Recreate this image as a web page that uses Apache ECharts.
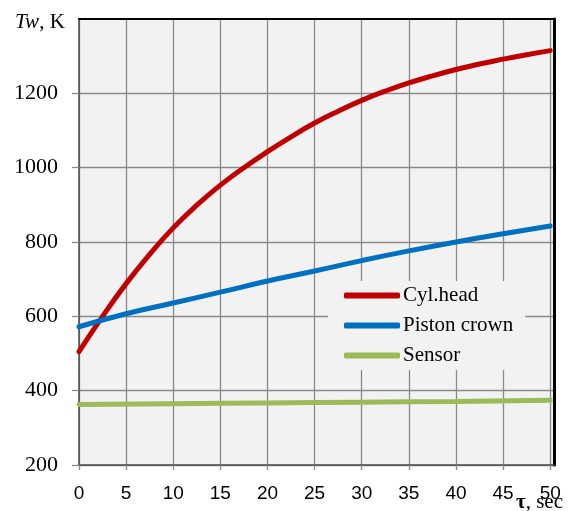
<!DOCTYPE html>
<html>
<head>
<meta charset="utf-8">
<script src="https://cdn.jsdelivr.net/npm/echarts@6/dist/echarts.min.js"></script>
<style>
html,body{margin:0;padding:0;background:#fff;}
#c{width:579px;height:511px;}
</style>
</head>
<body>
<div id="c"></div>
<script>
// ---- data ----
const xTicks = [0, 5, 10, 15, 20, 25, 30, 35, 40, 45, 50];
const yTicks = [200, 400, 600, 800, 1000, 1200];

const tauCyl = [0, 2.5, 5, 7.5, 10, 12.5, 15, 17.5, 20, 22.5, 25, 27.5, 30, 32.5, 35, 37.5, 40, 42.5, 45, 47.5, 50];
const cylHead = [505, 600, 688, 767, 838, 899, 953, 1000, 1043, 1083, 1120, 1152, 1181, 1206, 1228, 1247, 1264, 1279, 1292, 1304, 1315];

const tauPiston = [0, 5, 10, 15, 20, 25, 30, 35, 40, 45, 50];
const pistonCrown = [572, 607, 636, 665, 695, 722, 750, 776, 800, 822, 843];

const tauSensor = [0, 10, 20, 30, 40, 50];
const sensor = [363, 365, 367, 369, 371, 374];

const seriesNames = ['Cyl.head', 'Piston crown', 'Sensor'];
const seriesColors = ['#C00000', '#0070C0', '#9BBB59'];

function pairs(xs, ys) { return xs.map((x, i) => [x, ys[i]]); }

const chart = echarts.init(document.getElementById('c'), null, {renderer: 'canvas'});

const serif = 'Liberation Serif';
const sans = 'Liberation Sans';

const option = {
  backgroundColor: '#ffffff',
  animation: false,
  grid: {
    left: 79, right: 25, top: 19, bottom: 46,
    show: true, backgroundColor: '#F2F2F2', borderWidth: 0
  },
  xAxis: [{
    type: 'value', min: 0, max: 50.4, interval: 5,
    axisLine: {show: true, lineStyle: {color: '#4d4d4d', width: 1.5}},
    axisTick: {show: true, length: 5, inside: false, customValues: xTicks, lineStyle: {color: '#898989', width: 1.3}},
    axisLabel: {customValues: xTicks, margin: 19, color: '#000', fontFamily: sans, fontSize: 19,
      formatter: v => String(v)},
    splitLine: {show: true, lineStyle: {color: '#898989', width: 1.3}}
  }, {
    type: 'value', min: 0, max: 50.4, position: 'top',
    axisLine: {show: true, onZero: false, lineStyle: {color: '#000', width: 2}},
    axisTick: {show: false}, axisLabel: {show: false}, splitLine: {show: false}
  }],
  yAxis: [{
    type: 'value', min: 200, max: 1400, interval: 200,
    axisLine: {show: true, lineStyle: {color: '#4d4d4d', width: 1.5}},
    axisTick: {show: true, length: 7, inside: false, customValues: yTicks, lineStyle: {color: '#898989', width: 1.3}},
    axisLabel: {customValues: yTicks, margin: 21, color: '#000', fontFamily: serif, fontSize: 22,
      formatter: v => String(v)},
    splitLine: {show: true, lineStyle: {color: '#898989', width: 1.3}}
  }, {
    type: 'value', min: 200, max: 1400, position: 'right',
    axisLine: {show: true, onZero: false, lineStyle: {color: '#000', width: 3}},
    axisTick: {show: false}, axisLabel: {show: false}, splitLine: {show: false}
  }],
  legend: {
    orient: 'vertical',
    left: 328, top: 281,
    padding: [4, 12, 4, 16],
    backgroundColor: '#F2F2F2',
    itemWidth: 56, itemHeight: 6, itemGap: 9,
    icon: 'roundRect',
    textStyle: {fontFamily: serif, fontSize: 21, color: '#000', padding: [0, 0, 0, -2]},
    data: seriesNames
  },
  series: [
    {name: seriesNames[0], type: 'line', data: pairs(tauCyl, cylHead)},
    {name: seriesNames[1], type: 'line', data: pairs(tauPiston, pistonCrown)},
    {name: seriesNames[2], type: 'line', data: pairs(tauSensor, sensor)}
  ].map((s, i) => Object.assign(s, {
    smooth: true, showSymbol: false, symbol: 'none', z: 5,
    lineStyle: {color: seriesColors[i], width: 5, cap: 'round'},
    itemStyle: {color: seriesColors[i]}
  })),
  graphic: [{
    type: 'text', left: 15, top: 12, z: 10,
    style: {
      rich: {
        it: {fontFamily: serif, fontSize: 21, fontStyle: 'italic', fill: '#000'},
        n: {fontFamily: serif, fontSize: 21, fill: '#000'}
      },
      text: '{it|Tw}{n|, K}'
    }
  }, {
    type: 'text', left: 516, top: 492, z: 10,
    style: {
      rich: {
        b: {fontFamily: serif, fontSize: 21, fontWeight: 'bold', fill: '#000'},
        n: {fontFamily: serif, fontSize: 21, fill: '#000'}
      },
      text: '{b|τ}{n|, sec}'
    }
  }]
};

chart.setOption(option);
</script>
</body>
</html>
